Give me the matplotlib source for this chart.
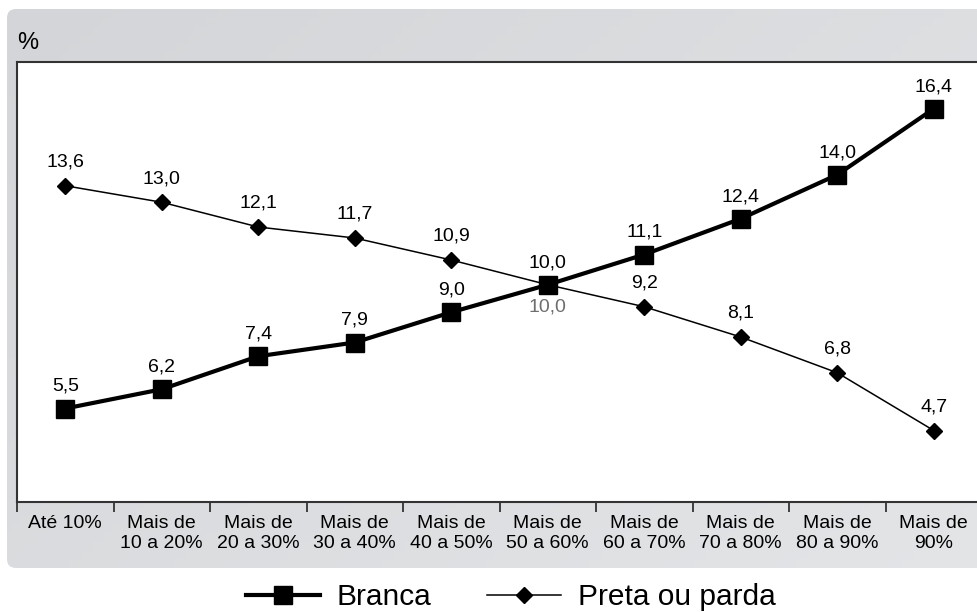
"""Line chart: share by race/colour across income brackets (Branca vs Preta ou parda)."""

import numpy as np
import matplotlib
matplotlib.use('Agg')
import matplotlib.pyplot as plt
from matplotlib.patches import FancyBboxPatch
from matplotlib.lines import Line2D

plt.rcParams['font.family'] = ['Liberation Sans', 'DejaVu Sans']

categories = ['Até 10%', 'Mais de\n10 a 20%', 'Mais de\n20 a 30%', 'Mais de\n30 a 40%',
              'Mais de\n40 a 50%', 'Mais de\n50 a 60%', 'Mais de\n60 a 70%',
              'Mais de\n70 a 80%', 'Mais de\n80 a 90%', 'Mais de\n90%']
branca = [5.5, 6.2, 7.4, 7.9, 9.0, 10.0, 11.1, 12.4, 14.0, 16.4]
preta = [13.6, 13.0, 12.1, 11.7, 10.9, 10.0, 9.2, 8.1, 6.8, 4.7]
series_names = ['Branca', 'Preta ou parda']

W, H = 978, 612
fig = plt.figure(figsize=(W / 100, H / 100), dpi=100)

# gray panel behind the plot, rounded on the left
bg = fig.add_axes([0, 0, 1, 1], zorder=-1)
bg.set_xlim(0, W)
bg.set_ylim(H, 0)
bg.axis('off')
panel = FancyBboxPatch((7, 9), 1000, 559, boxstyle='round,pad=0,rounding_size=9',
                       facecolor='none', edgecolor='none')
bg.add_patch(panel)
grad = np.linspace(0, 1, 256)[None, :] * 0.6 + np.linspace(0, 1, 64)[:, None] * 0.4
cmap = matplotlib.colors.LinearSegmentedColormap.from_list('g', ['#d4d5d8', '#e4e5e7'])
im = bg.imshow(grad, cmap=cmap, extent=(7, 1007, 568, 9), aspect='auto')
im.set_clip_path(panel)

# plot area
ax = fig.add_axes([17 / W, (H - 502) / H, 965 / W, 440 / H])
ax.set_facecolor('white')
x = np.arange(len(categories))

ax.plot(x, branca, color='black', lw=3, marker='s', ms=13.5, zorder=3)
ax.plot(x, preta, color='black', lw=1.1, marker='D', ms=8, zorder=2)

for xi, v in zip(x, branca):
    ax.annotate(f'{v:.1f}'.replace('.', ','), (xi, v), xytext=(0, 16),
                textcoords='offset points', ha='center', va='center', fontsize=14)
for xi, v in zip(x, preta):
    if v == 10.0 and xi == 5:
        ax.annotate('10,0', (xi, v), xytext=(0, -16), textcoords='offset points',
                    ha='center', va='center', fontsize=14, color='#6e6e6e')
    else:
        ax.annotate(f'{v:.1f}'.replace('.', ','), (xi, v), xytext=(0, 17),
                    textcoords='offset points', ha='center', va='center', fontsize=14)

ax.set_xlim(-0.5, 9.5)
ax.set_ylim(2.1, 18.1)
ax.set_yticks([])
ax.set_xticks(x)
ax.set_xticklabels(categories, fontsize=14, linespacing=1.25)
ax.set_xticks(np.arange(-0.5, 10, 1), minor=True)
ax.tick_params(axis='x', which='major', length=0, pad=9)
ax.tick_params(axis='x', which='minor', length=7, width=1.3, color='#333333', direction='out')
for side in ['top', 'left', 'bottom']:
    ax.spines[side].set_color('#333333')
    ax.spines[side].set_linewidth(1.5)
ax.spines['right'].set_visible(False)

fig.text(17 / W, 1 - 43 / H, '%', fontsize=17, va='center', ha='left')

# legend
handles = [Line2D([], [], color='black', lw=3, marker='s', ms=13.5),
           Line2D([], [], color='black', lw=1.1, marker='D', ms=8)]
fig.legend(handles, series_names, loc='center', bbox_to_anchor=(0.522, 1 - 597 / H),
           ncol=2, frameon=False, fontsize=21.5, handlelength=2.5, handletextpad=0.55,
           columnspacing=1.85, borderpad=0)

fig.savefig('out.png', dpi=100)
